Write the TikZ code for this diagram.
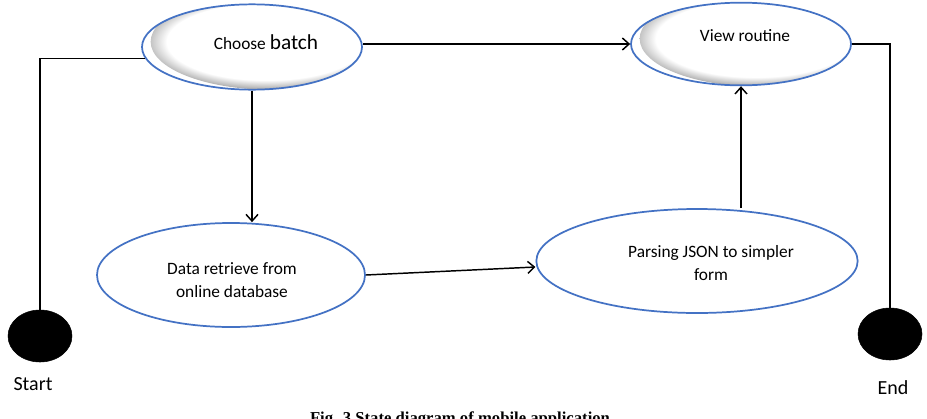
\documentclass[tikz,border=0pt]{standalone}
\usepackage{fontspec}
\setmainfont{Carlito}
\newfontfamily\capfont{Liberation Serif}
\usetikzlibrary{shapes.geometric,arrows.meta}
\definecolor{eblue}{RGB}{68,114,196}
\pgfdeclareradialshading{ellshade}{\pgfpoint{0bp}{0bp}}{color(0bp)=(white); color(20bp)=(white); color(25bp)=(gray!70); color(50bp)=(gray!70)}
\tikzset{
  state/.style={ellipse, draw=eblue, line width=1.3pt, fill=white, inner sep=0pt},
  shadedstate/.style={state, path picture={
      \shade[shading=ellshade] ([xshift=14pt,yshift=4pt]path picture bounding box.center) ellipse [x radius=#1, y radius=36pt];}},
  term/.style={ellipse, fill=black, draw=black, minimum width=48pt, minimum height=39pt, inner sep=0pt},
  lbl/.style={font=\fontsize{13}{17}\selectfont, align=center, inner sep=0pt},
  conn/.style={line width=1.1pt, black},
  arr/.style={conn, -{Straight Barb[length=5pt,width=9pt,line width=1.1pt]}}
}
\begin{document}
\begin{tikzpicture}[x=0.75pt,y=-0.75pt]
\useasboundingbox (0,0) rectangle (927,418);
\clip (0,0) rectangle (927,418);
% nodes
\node[shadedstate=90pt, minimum width=165pt, minimum height=64pt] (choose) at (252,47) {};
\node[shadedstate=90pt, minimum width=165pt, minimum height=62pt] (view) at (741,44) {};
\node[state, minimum width=201pt, minimum height=78pt] (data) at (231,275) {};
\node[state, minimum width=241pt, minimum height=78pt] (parse) at (697,261) {};
\node[term] (start) at (40,336) {};
\node[term] (end) at (890,334) {};
% texts
\node[lbl] (chooset) at (266,42) {Choose {\fontsize{16}{18}\selectfont batch}};
\node[lbl] (viewt) at (745,36) {View routine};
\node[lbl] (datat) at (232,280) {Data retrieve from\\online database};
\node[lbl] (parset) at (711,263) {Parsing JSON to simpler\\form};
\node[font=\fontsize{15}{18}\selectfont, inner sep=0pt] (startt) at (33,384) {Start};
\node[font=\fontsize{15}{18}\selectfont, inner sep=0pt] (endt) at (893,388) {End};
\node[font=\capfont\bfseries\fontsize{12.5}{14}\selectfont, anchor=base, inner sep=0pt] (cap) at (460,423) {Fig. 3 State diagram of mobile application};
% connectors
\draw[conn] (start.north) |- (choose.186);
\draw[arr] (choose.east |- view.west) -- (view.west);
\draw[arr] (choose.south) -- (choose.south |- data.north);
\draw[arr] (data.east) -- (parse.west |- 0,267);
\draw[arr] (view.south |- 0,208) -- (view.south);
\draw[conn] (view.east) -| (end.north);
\end{tikzpicture}
\end{document}
